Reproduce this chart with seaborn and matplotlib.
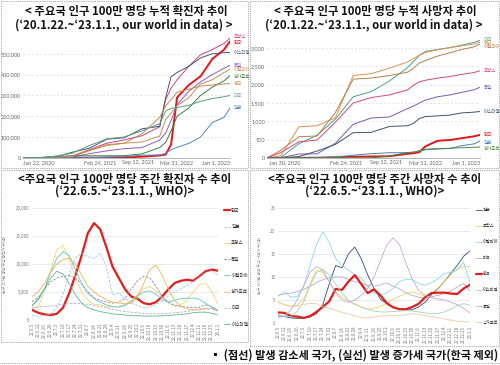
import pandas as pd
import seaborn as sns
import matplotlib.pyplot as plt
from matplotlib.patches import Rectangle
from matplotlib.lines import Line2D
from matplotlib.ticker import FuncFormatter

sns.set_theme(style='white')
plt.rcParams['font.family'] = ['Noto Sans CJK KR', 'DejaVu Sans']

# ---------------- data ----------------
# cumulative charts (our world in data), sampled dates
cum_dates = ['2020-01-22', '2020-04-01', '2020-07-01', '2020-10-01', '2021-01-01',
             '2021-04-01', '2021-07-01', '2021-10-01', '2022-01-01', '2022-02-01',
             '2022-03-01', '2022-04-01', '2022-06-01', '2022-08-01', '2022-10-01',
             '2022-12-01', '2023-01-01']

# cumulative confirmed cases per million
cum_cases = {
    '프랑스':   [0, 800, 2500, 9000, 40000, 71000, 87000, 107000, 150000, 280000, 335000, 375000, 440000, 495000, 520000, 550000, 575000],
    '한국':     [0, 200, 250, 450, 1200, 2000, 3000, 6500, 12000, 17000, 65000, 290000, 350000, 392000, 475000, 520000, 560000],
    '이스라엘': [0, 600, 3000, 27000, 47000, 90000, 97000, 140000, 152000, 290000, 390000, 410000, 440000, 480000, 500000, 505000, 506000],
    '독일':     [0, 900, 2300, 3500, 21000, 34000, 45000, 50000, 86000, 120000, 180000, 255000, 320000, 365000, 400000, 430000, 445000],
    '이탈리아': [0, 1800, 4000, 5200, 35000, 60000, 71000, 77000, 105000, 185000, 215000, 250000, 290000, 355000, 375000, 410000, 425000],
    '싱가포르': [0, 200, 7500, 10000, 10500, 10600, 11000, 20000, 50000, 75000, 130000, 200000, 240000, 300000, 340000, 370000, 395000],
    '영국':     [0, 400, 4600, 7000, 37000, 64000, 71000, 117000, 195000, 250000, 280000, 315000, 330000, 345000, 350000, 355000, 357000],
    '미국':     [0, 600, 8000, 22000, 60000, 92000, 101000, 130000, 165000, 225000, 238000, 242000, 253000, 272000, 285000, 294000, 300000],
    '일본':     [0, 20, 150, 650, 1900, 3800, 6500, 13500, 14000, 22000, 40000, 51000, 70000, 100000, 170000, 195000, 240000],
}

# cumulative deaths per million
cum_deaths = {
    '미국':     [0, 15, 390, 620, 1060, 1670, 1810, 2100, 2470, 2640, 2800, 2910, 2960, 3010, 3080, 3150, 3210],
    '영국':     [0, 60, 850, 880, 1100, 2250, 2300, 2450, 2620, 2720, 2800, 2880, 2950, 3010, 3060, 3110, 3160],
    '이탈리아': [0, 210, 580, 600, 1240, 2150, 2180, 2250, 2340, 2460, 2590, 2660, 2780, 2870, 2960, 3030, 3110],
    '프랑스':   [0, 150, 440, 490, 980, 1500, 1650, 1720, 1860, 1990, 2080, 2120, 2180, 2220, 2280, 2330, 2380],
    '독일':     [0, 10, 108, 115, 400, 920, 1090, 1120, 1350, 1420, 1500, 1580, 1670, 1720, 1790, 1860, 1930],
    '이스라엘': [0, 3, 40, 190, 370, 690, 700, 860, 880, 950, 1080, 1130, 1150, 1170, 1230, 1250, 1270],
    '한국':     [0, 3, 5, 8, 18, 34, 40, 48, 115, 130, 160, 320, 470, 490, 540, 590, 630],
    '일본':     [0, 1, 8, 13, 28, 75, 118, 144, 146, 160, 190, 225, 245, 260, 335, 385, 460],
    '싱가포르': [0, 1, 4, 5, 5, 5, 6, 50, 150, 160, 200, 240, 255, 265, 280, 292, 300],
}

# weekly charts (WHO), 2022-06-05 ~ 2023-01-01
week_labels = [d.strftime('%y.%-m.%-d') for d in pd.date_range('2022-06-05', '2023-01-01', freq='7D')]

weekly_cases = {
    '한국':     [1800, 1300, 1000, 900, 1100, 2200, 4800, 8000, 11500, 15500, 17300, 16200, 13000, 9500, 7500, 5500, 4200, 3800, 3000, 2800, 3200, 4200, 5500, 6600, 7000, 7200, 7000, 7800, 8700, 9000, 8800],
    '일본':     [800, 700, 800, 1100, 2200, 4500, 8000, 11000, 11900, 11300, 11000, 11900, 9500, 4500, 4800, 3800, 3000, 2600, 2200, 2300, 2700, 3400, 4300, 5000, 5600, 6200, 6800, 7700, 8500, 8800, 8000],
    '프랑스':   [2100, 2400, 5000, 9000, 12500, 13300, 11000, 7500, 5000, 3600, 2800, 2700, 2400, 2300, 2400, 2800, 3500, 4500, 5600, 6000, 5200, 4000, 3000, 2500, 2700, 3500, 5000, 6300, 6600, 5000, 2800],
    '독일':     [3300, 4000, 5500, 6800, 7500, 7800, 7900, 7500, 6500, 5000, 4000, 3500, 3200, 3000, 3200, 3800, 5500, 7000, 7800, 7500, 6000, 4200, 3200, 2600, 2400, 2300, 2200, 2300, 2700, 2400, 1500],
    '이탈리아': [2600, 3500, 5500, 8500, 11000, 12200, 11500, 9000, 6500, 4800, 3800, 3200, 2700, 2400, 2300, 2600, 3300, 4300, 5000, 5200, 4600, 3600, 3200, 3500, 3800, 3900, 3900, 3700, 3000, 2300, 1800],
    '싱가포르': [4200, 5000, 6500, 8500, 10000, 10800, 11000, 10000, 8000, 6000, 5000, 4200, 3600, 3200, 3000, 2900, 3000, 4000, 6500, 9000, 9800, 8000, 5500, 3500, 2500, 2000, 1800, 1800, 2000, 2000, 1600],
    '미국':     [2100, 2300, 2400, 2500, 2600, 2800, 2900, 3000, 2900, 2800, 2600, 2400, 2200, 1900, 1700, 1500, 1400, 1300, 1200, 1100, 1100, 1100, 1200, 1300, 1400, 1500, 1800, 2000, 2100, 2100, 1700],
    '이스라엘': [2500, 3800, 5500, 7500, 8700, 8200, 6500, 4500, 3000, 2200, 1800, 1500, 1300, 1100, 1000, 900, 800, 750, 700, 700, 700, 750, 800, 900, 1000, 1100, 1300, 1400, 1400, 1200, 900],
}

weekly_deaths = {
    '일본':     [1.6, 1.4, 1.1, 1.0, 1.1, 1.3, 2.0, 4.0, 8.5, 12.5, 12.0, 15.0, 16.5, 14.0, 10.5, 7.5, 5.2, 4.2, 3.4, 3.0, 2.8, 2.9, 3.5, 4.5, 6.2, 7.5, 9.0, 10.8, 12.5, 14.5, 15.7],
    '프랑스':   [4.6, 4.0, 3.6, 3.9, 5.2, 8.5, 11.5, 11.0, 9.0, 6.8, 5.6, 4.8, 4.2, 3.4, 3.0, 3.2, 3.6, 4.3, 5.2, 5.8, 6.4, 6.8, 6.3, 5.8, 6.5, 7.6, 9.0, 10.5, 11.8, 12.2, 12.3],
    '이탈리아': [5.8, 6.8, 5.6, 5.8, 8.0, 12.5, 17.0, 19.8, 17.5, 14.0, 12.5, 11.5, 10.5, 9.8, 8.0, 6.5, 6.0, 6.6, 7.5, 9.0, 9.5, 9.4, 8.6, 8.2, 8.8, 9.6, 10.8, 11.0, 11.5, 13.2, 8.7],
    '미국':     [6.0, 6.3, 6.5, 6.8, 7.3, 8.0, 8.8, 9.4, 9.8, 10.0, 10.0, 9.5, 9.0, 8.6, 8.2, 8.0, 8.3, 8.7, 8.0, 7.4, 6.6, 6.0, 5.6, 5.4, 5.7, 6.0, 6.4, 7.0, 7.8, 8.6, 7.0],
    '한국':     [2.3, 2.2, 1.5, 1.4, 1.1, 1.5, 2.4, 3.5, 4.7, 7.4, 7.2, 9.0, 10.4, 8.5, 6.5, 7.3, 6.0, 4.3, 3.4, 3.0, 3.0, 3.5, 4.2, 5.6, 6.5, 6.6, 6.6, 6.4, 6.3, 7.5, 8.3],
    '이스라엘': [1.8, 1.5, 1.4, 2.5, 4.5, 8.0, 11.0, 11.6, 10.5, 8.5, 6.5, 5.0, 4.0, 3.5, 3.0, 2.6, 2.4, 2.4, 2.5, 2.6, 2.7, 2.6, 2.4, 2.2, 2.0, 2.1, 2.4, 3.0, 3.8, 4.2, 3.9],
    '독일':     [1.2, 1.5, 2.8, 5.0, 8.0, 11.0, 12.3, 11.5, 9.0, 6.5, 5.0, 4.5, 5.0, 6.0, 7.5, 10.0, 13.5, 17.0, 18.5, 17.0, 13.0, 9.5, 7.0, 6.0, 5.5, 5.2, 5.0, 4.5, 4.0, 3.2, 2.2],
    '싱가포르': [4.6, 4.0, 3.6, 3.7, 4.0, 4.3, 4.2, 3.5, 3.2, 2.8, 2.3, 2.0, 1.5, 1.2, 1.1, 1.3, 1.5, 1.6, 1.7, 1.6, 1.8, 2.0, 1.9, 1.6, 1.4, 1.2, 0.9, 0.6, 0.4, 0.3, 0.2],
}

# ---------------- styles ----------------
cum_case_colors = {'프랑스': '#c8457f', '한국': '#e3151b', '이스라엘': '#46557a', '독일': '#8a5cc0',
                   '이탈리아': '#c39356', '싱가포르': '#3b7d45', '영국': '#c98a4f', '미국': '#55a37c', '일본': '#4f86c6'}
cum_death_colors = {'미국': '#4aa386', '영국': '#dc9450', '이탈리아': '#b0804f', '프랑스': '#d4477a', '독일': '#7a5ab0',
                    '이스라엘': '#3d5378', '한국': '#e3151b', '일본': '#4b7fc0', '싱가포르': '#4b8a3e'}
wk_case_colors = {'한국': '#e01e1e', '일본': '#9cc3e6', '프랑스': '#f3d770', '독일': '#8e84a8', '이탈리아': '#5cc4da',
                  '싱가포르': '#eeb457', '미국': '#b3a6c9', '이스라엘': '#5cb88a'}
wk_death_colors = {'일본': '#2f4b7c', '프랑스': '#f0d25e', '이탈리아': '#8fd7ea', '미국': '#b8abcb', '한국': '#e01e1e',
                   '이스라엘': '#9fd6b7', '독일': '#c2a9da', '싱가포르': '#f4c8a2'}
wk_case_dashed = ['일본', '독일', '미국']
wk_death_dashed = []

W, H = 500, 365
fig = plt.figure(figsize=(5, 3.65), dpi=100)


def px_axes(x0, y0, x1, y1):
    return fig.add_axes([x0 / W, 1 - y1 / H, (x1 - x0) / W, (y1 - y0) / H])


def box(x0, y0, x1, y1):
    fig.add_artist(Rectangle((x0 / W, 1 - y1 / H), (x1 - x0) / W, (y1 - y0) / H, transform=fig.transFigure,
                             fill=False, ec='#8c8c8c', lw=0.6, ls=(0, (1, 1.2))))


def title(xc, y, text, size):
    fig.text(xc / W, 1 - y / H, text, ha='center', va='center', fontsize=size, fontweight='bold', color='#111')


def cum_panel(ax, values, colors, ymax, ticks, tick_labels, nudges):
    df = pd.DataFrame(values, index=pd.to_datetime(cum_dates)).rename_axis('date').reset_index()
    df = df.melt('date', var_name='country', value_name='value')
    order = list(values)
    sizes = {c: (1.4 if c == '한국' else 0.7) for c in order}
    sns.lineplot(data=df, x='date', y='value', hue='country', hue_order=order, palette=colors,
                 size='country', size_order=order, sizes=sizes, legend=False, ax=ax)
    ax.set_xlim(pd.Timestamp('2020-01-22'), pd.Timestamp('2023-01-01'))
    ax.set_ylim(0, ymax)
    ax.set_xlabel('')
    ax.set_ylabel('')
    ax.yaxis.set_major_formatter(FuncFormatter(lambda v, p: f'{v:,.0f}'))
    ax.yaxis.grid(True, ls=(0, (3, 3)), color='#d9d9d9', lw=0.5)
    for s in ['top', 'right', 'left']:
        ax.spines[s].set_visible(False)
    ax.spines['bottom'].set_color('#9a9a9a')
    ax.spines['bottom'].set_linewidth(0.5)
    ax.tick_params(length=0, pad=1.5, labelsize=4, colors='#666666')
    for t in ax.get_yticklabels():
        t.set_family('Lato')
    ax.set_xticks(pd.to_datetime(ticks))
    ax.set_xticklabels(tick_labels, family='Lato', fontsize=4, color='#666666')
    labs = ax.get_xticklabels()
    labs[0].set_ha('left')
    labs[-1].set_ha('right')
    last = pd.Timestamp(cum_dates[-1])
    for c in order:
        ax.annotate(c, (last, values[c][-1]), xytext=(2.5, nudges.get(c, 0)), textcoords='offset points',
                    fontsize=3.2, color=colors[c], va='center', ha='left', annotation_clip=False)


def week_panel(ax, values, colors, dashed, ymax, ystep, ylabel, leg_x, leg_space, leg_font):
    df = pd.DataFrame(values).rename_axis('week').reset_index()
    df = df.melt('week', var_name='country', value_name='value')
    order = list(values)
    sizes = {c: (1.6 if c == '한국' else 0.6) for c in order}
    dashes = {c: ((3, 1.6) if c in dashed else '') for c in order}
    sns.lineplot(data=df, x='week', y='value', hue='country', hue_order=order, palette=colors,
                 size='country', size_order=order, sizes=sizes,
                 style='country', style_order=order, dashes=dashes, legend='full', ax=ax)
    ax.set_xlim(0, len(week_labels) - 1)
    ax.set_ylim(0, ymax)
    ax.set_yticks(range(0, int(ymax) + 1, ystep))
    ax.yaxis.set_major_formatter(FuncFormatter(lambda v, p: f'{v:,.0f}'))
    ax.yaxis.grid(True, color='#e2e2e2', lw=0.5)
    for s in ['top', 'right', 'left', 'bottom']:
        ax.spines[s].set_visible(False)
    ax.set_xticks(range(len(week_labels)))
    ax.set_xticklabels(week_labels, rotation=90, fontsize=2.4, color='#777777')
    ax.tick_params(length=0, pad=2, labelsize=3.2, colors='#777777')
    ax.set_xlabel('')
    ax.set_ylabel(ylabel, fontsize=2.8, color='#888888', labelpad=6)
    sns.move_legend(ax, 'upper left', bbox_to_anchor=(leg_x, 1.0), frameon=False, title=None,
                    fontsize=leg_font, handlelength=1.4, handletextpad=0.25, labelspacing=leg_space,
                    borderpad=0, borderaxespad=0)


# ---------------- panels ----------------
box(1, 1, 248, 168)
box(250, 1, 499, 168)
box(1, 170, 248, 342)
box(250, 170, 499, 346)
fig.add_artist(Line2D([0, 1], [1 - 363 / H] * 2, transform=fig.transFigure, color='#8c8c8c', lw=0.6, ls=(0, (1, 1.2))))

title(126, 12, '< 주요국 인구 100만 명당 누적 확진자 추이', 8.2)
title(124, 25, '(\u201820.1.22.~\u201823.1.1., our world in data) >', 8.2)
title(375, 12, '< 주요국 인구 100만 명당 누적 사망자 추이', 8.2)
title(374, 25, '(\u201820.1.22.~\u201823.1.1., our world in data) >', 8.2)
title(125, 179, '<주요국 인구 100만 명당 주간 확진자 수 추이', 8.2)
title(125, 191, '(\u201822.6.5.~\u201823.1.1., WHO)>', 8.2)
title(375, 179, '<주요국 인구 100만 명당 주간 사망자 수 추이', 8.2)
title(375, 191, '(\u201822.6.5.~\u201823.1.1., WHO)>', 8.2)

ax1 = px_axes(23, 35, 230, 158)
cum_panel(ax1, cum_cases, cum_case_colors, 590000,
          ['2020-01-22', '2021-02-24', '2021-09-12', '2022-03-31', '2023-01-01'],
          ['Jan 22, 2020', 'Feb 24, 2021', 'Sep 12, 2021', 'Mar 31, 2022', 'Jan 1, 2023'],
          {'프랑스': 1.0, '한국': -0.6, '싱가포르': -0.6})

ax2 = px_axes(267, 35, 480, 158)
cum_panel(ax2, cum_deaths, cum_death_colors, 3355,
          ['2020-01-30', '2021-02-24', '2021-09-12', '2022-03-31', '2023-01-01'],
          ['Jan 30, 2020', 'Feb 24, 2021', 'Sep 12, 2021', 'Mar 31, 2022', 'Jan 1, 2023'],
          {'미국': 0.6, '영국': -0.6, '이탈리아': -2.0, '일본': -0.8, '싱가포르': -1.2})

ax3 = px_axes(32, 208, 218, 320)
week_panel(ax3, weekly_cases, wk_case_colors, wk_case_dashed, 20000, 5000,
           '인구 100만 명당 주간 확진자 수(명)', 1.03, 2.45, 3.3)

ax4 = px_axes(278, 208, 470, 323)
week_panel(ax4, weekly_deaths, wk_death_colors, wk_death_dashed, 25, 5,
           '인구 100만 명당 주간 사망자 수(명)', 1.03, 2.9, 3.0)

fig.text(498 / W, 1 - 355 / H, '\u25aa (점선) 발생 감소세 국가, (실선) 발생 증가세 국가(한국 제외)',
         ha='right', va='center', fontsize=8.0, fontweight='bold', color='#111')

fig.savefig('out.png', dpi=100)
